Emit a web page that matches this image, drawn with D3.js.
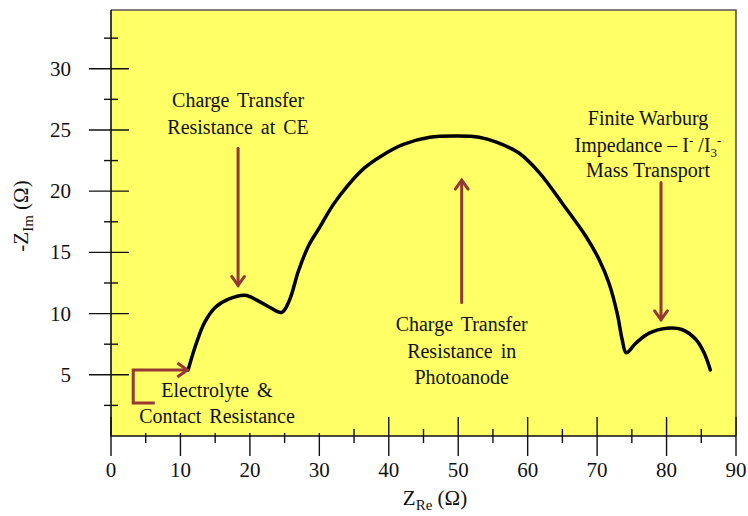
<!DOCTYPE html>
<html>
<head>
  <meta charset="UTF-8">
  <style>
    body { margin: 0; background: white; }
    svg { display: block; }
    text { font-family: "Liberation Serif", "Times New Roman", serif; fill: #111; }
  </style>
</head>
<body>
<svg></svg>
<script src="https://d3js.org/d3.v7.min.js"></script>
<script>

let width = 748, height = 516;

// Nyquist curve (Z_Re, -Z_Im in ohm)
const zRe = [11.1, 12.3, 13.5, 15.0, 17.0, 19.3, 21.0, 22.9, 24.6, 25.7,
             27.0, 28.5, 30.0, 32.0, 34.0, 36.5, 39.0, 42.0, 45.9, 50.0,
             53.0, 55.5, 58.8, 61.7, 65.0, 68.4, 70.3, 71.7, 72.9, 73.6,
             74.2, 75.6, 77.5, 80.1, 82.2, 84.2, 85.4, 86.3];
const zIm = [5.4, 7.6, 9.3, 10.5, 11.2, 11.5, 11.1, 10.5, 10.1, 11.1,
             13.5, 15.6, 17.0, 18.9, 20.4, 21.9, 22.9, 23.8, 24.4, 24.5,
             24.4, 24.0, 23.1, 21.5, 19.0, 16.3, 14.4, 12.5, 10.0, 7.9,
             6.8, 7.6, 8.4, 8.8, 8.7, 7.9, 6.8, 5.4];

const xTicks = [0, 10, 20, 30, 40, 50, 60, 70, 80, 90];
const xMinor = [5, 15, 25, 35, 45, 55, 65, 75, 85];
const yTicks = [5, 10, 15, 20, 25, 30];
const yMinor = [2.5, 7.5, 12.5, 17.5, 22.5, 27.5, 32.5];

const arrowColor = "#953735";

let svg = d3.select("svg")
    .attr("width", width)
    .attr("height", height);

let x = d3.scaleLinear().domain([0, 90]).range([111, 736]);
let y = d3.scaleLinear().domain([0, 34.8]).range([436, 10]);

// yellow plot area
svg.append("rect")
    .attr("x", x(0)).attr("y", y(34.8))
    .attr("width", x(90) - x(0)).attr("height", y(0) - y(34.8))
    .attr("fill", "#ffff66");

// border top + right
svg.append("path")
    .attr("d", `M${x(0)},${y(34.8)}H${x(90)}V${y(0)}`)
    .attr("fill", "none").attr("stroke", "#555").attr("stroke-width", 1.6);

// ticks
let ticks = svg.append("g").attr("stroke", "#111").attr("stroke-width", 1.4);
ticks.selectAll(".xmaj").data(xTicks).enter().append("line")
    .attr("x1", d => x(d)).attr("x2", d => x(d))
    .attr("y1", y(0) - 19).attr("y2", y(0) + 20);
ticks.selectAll(".xmin").data(xMinor).enter().append("line")
    .attr("x1", d => x(d)).attr("x2", d => x(d))
    .attr("y1", y(0) - 7).attr("y2", y(0) + 7);
ticks.selectAll(".ymaj").data(yTicks).enter().append("line")
    .attr("x1", x(0) - 22).attr("x2", x(0) + 18)
    .attr("y1", d => y(d)).attr("y2", d => y(d));
ticks.selectAll(".ymin").data(yMinor).enter().append("line")
    .attr("x1", x(0) - 7).attr("x2", x(0) + 7)
    .attr("y1", d => y(d)).attr("y2", d => y(d));

// text box of the electrolyte note hides the ticks behind it
svg.append("rect")
    .attr("x", 130).attr("y", 378).attr("width", 205).attr("height", 55)
    .attr("fill", "#ffff66");

// axis lines
svg.append("path")
    .attr("d", `M${x(0)},${y(34.8)}V${y(0)}H${x(90)}`)
    .attr("fill", "none").attr("stroke", "#111").attr("stroke-width", 1.6);

// tick labels
svg.selectAll(".xl").data(xTicks).enter().append("text")
    .attr("x", d => x(d)).attr("y", y(0) + 41)
    .attr("text-anchor", "middle").attr("font-size", 21)
    .text(d => d);
svg.selectAll(".yl").data(yTicks).enter().append("text")
    .attr("x", 71).attr("y", d => y(d) + 7)
    .attr("text-anchor", "end").attr("font-size", 21)
    .text(d => d);

// axis titles
let xt = svg.append("text")
    .attr("x", 435).attr("y", 505)
    .attr("text-anchor", "middle").attr("font-size", 21);
xt.append("tspan").text("Z");
xt.append("tspan").attr("font-size", 15).attr("dy", 5).text("Re");
xt.append("tspan").attr("dy", -5).text(" (Ω)");

let yt = svg.append("text")
    .attr("transform", "translate(28,216) rotate(-90)")
    .attr("text-anchor", "middle").attr("font-size", 21);
yt.append("tspan").text("-Z");
yt.append("tspan").attr("font-size", 15).attr("dy", 5).text("Im");
yt.append("tspan").attr("dy", -5).text(" (Ω)");

// the curve
let pts = zRe.map((v, i) => [v, zIm[i]]);
svg.append("path")
    .datum(pts)
    .attr("d", d3.line().x(d => x(d[0])).y(d => y(d[1])).curve(d3.curveCatmullRom.alpha(0.5)))
    .attr("fill", "none").attr("stroke", "black")
    .attr("stroke-width", 3.5).attr("stroke-linejoin", "round").attr("stroke-linecap", "round");

// arrows
function arrow(x1, y1, x2, y2) {
    let g = svg.append("g").attr("stroke", arrowColor).attr("stroke-width", 3)
        .attr("fill", "none").attr("stroke-linecap", "round");
    g.append("line").attr("x1", x1).attr("y1", y1).attr("x2", x2).attr("y2", y2);
    let a = Math.atan2(y2 - y1, x2 - x1), L = 11, w = 0.62;
    g.append("path").attr("d",
        `M${x2 - L * Math.cos(a - w)},${y2 - L * Math.sin(a - w)}L${x2},${y2}` +
        `L${x2 - L * Math.cos(a + w)},${y2 - L * Math.sin(a + w)}`)
        .attr("stroke-linejoin", "miter");
}

arrow(x(18.3), y(23.5), x(18.3), y(12.3));
arrow(x(50.5), y(10.9), x(50.5), y(20.9));
arrow(x(79.2), y(20.7), x(79.2), y(9.5));

// bracket arrow to the curve start
svg.append("path")
    .attr("d", `M${x(6.3)},${y(2.7)}H${x(3.2)}V${y(5.4)}H${x(11.0)}`)
    .attr("fill", "none").attr("stroke", arrowColor).attr("stroke-width", 3);
svg.append("path")
    .attr("d", `M${x(11.0) - 10},${y(5.4) - 7}L${x(11.0)},${y(5.4)}L${x(11.0) - 10},${y(5.4) + 7}`)
    .attr("fill", "none").attr("stroke", arrowColor).attr("stroke-width", 3);

// notes
function note(cx, lines, y0, gap) {
    lines.forEach((l, i) => {
        svg.append("text")
            .attr("x", cx).attr("y", y0 + i * gap)
            .attr("text-anchor", "middle").attr("font-size", 20)
            .attr("word-spacing", 3)
            .text(l);
    });
}

note(x(18.3), ["Charge Transfer", "Resistance at CE"], 107, 27);
note(x(50.5), ["Charge Transfer", "Resistance in", "Photoanode"], 331, 26.5);
note(217, ["Electrolyte &", "Contact Resistance"], 397, 26);

let w1 = svg.append("text").attr("x", 648).attr("text-anchor", "middle").attr("font-size", 20);
w1.attr("y", 125).text("Finite Warburg");
let w2 = svg.append("text").attr("x", 648).attr("y", 152)
    .attr("text-anchor", "middle").attr("font-size", 20);
w2.append("tspan").text("Impedance – I");
w2.append("tspan").attr("font-size", 13).attr("dy", -7).text("-");
w2.append("tspan").attr("dy", 7).text(" /I");
w2.append("tspan").attr("font-size", 13).attr("dy", 5).text("3");
w2.append("tspan").attr("font-size", 13).attr("dy", -12).text("-");
let w3 = svg.append("text").attr("x", 648).attr("y", 177)
    .attr("text-anchor", "middle").attr("font-size", 20);
w3.text("Mass Transport");

</script>
</body>
</html>
